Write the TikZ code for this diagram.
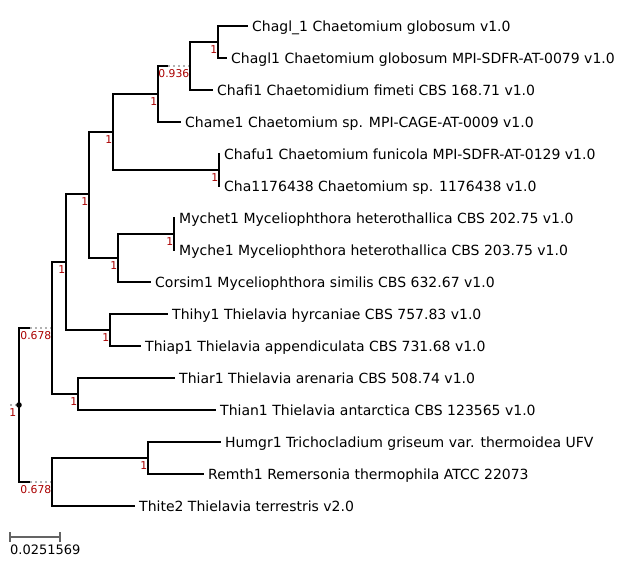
\documentclass[tikz,border=0pt]{standalone}
\usepackage{fontspec}
\setmainfont{DejaVu Sans}
\definecolor{suppred}{RGB}{170,0,0}
\definecolor{scalegrey}{RGB}{100,100,100}
\begin{document}
\begin{tikzpicture}[
        x=1pt, y=-1pt,
        every path/.style={line join=miter},
        branch/.style={line width=1.7pt, black},
        gap/.style={line width=1.5pt, gray!60, dash pattern=on 2pt off 3pt},
        leaf/.style={anchor=west, inner xsep=4pt, inner ysep=0pt, text height=10.2pt, text depth=0pt, font=\fontsize{14}{16}\selectfont},
        supp/.style={anchor=north east, inner xsep=0.5pt, inner ysep=3.4pt, text=suppred, font=\fontsize{10.8}{12}\selectfont},
        ]
        \useasboundingbox (0,0) rectangle (627,582);

        % inner nodes
        \coordinate (r) at (19,405);
        \coordinate (as) at (30,328);  \coordinate (a) at (52,328);
        \coordinate (ws) at (30,482);  \coordinate (w) at (52,482);
        \coordinate (e) at (66,262);
        \coordinate (c) at (78,394);
        \coordinate (f) at (89,194);
        \coordinate (g) at (110,330);
        \coordinate (h) at (113,132);
        \coordinate (i) at (118,258);
        \coordinate (j) at (158,94);
        \coordinate (k) at (219,170);
        \coordinate (n) at (174,234);
        \coordinate (ls) at (168,66); \coordinate (l) at (190,66);
        \coordinate (m) at (218,42);
        \coordinate (d) at (148,458);

        % leaves
        \node[leaf] (t1)  at (248,26)  {Chagl\_1 Chaetomium globosum v1.0};
        \node[leaf] (t2)  at (227,58)  {Chagl1 Chaetomium globosum MPI-SDFR-AT-0079 v1.0};
        \node[leaf] (t3)  at (213,90)  {Chafi1 Chaetomidium fimeti CBS 168.71 v1.0};
        \node[leaf] (t4)  at (181,122) {Chame1 Chaetomium sp. MPI-CAGE-AT-0009 v1.0};
        \node[leaf] (t5)  at (220,154) {Chafu1 Chaetomium funicola MPI-SDFR-AT-0129 v1.0};
        \node[leaf] (t6)  at (220,186) {Cha1176438 Chaetomium sp. 1176438 v1.0};
        \node[leaf] (t7)  at (175,218) {Mychet1 Myceliophthora heterothallica CBS 202.75 v1.0};
        \node[leaf] (t8)  at (175,250) {Myche1 Myceliophthora heterothallica CBS 203.75 v1.0};
        \node[leaf] (t9)  at (151,282) {Corsim1 Myceliophthora similis CBS 632.67 v1.0};
        \node[leaf] (t10) at (168,314) {Thihy1 Thielavia hyrcaniae CBS 757.83 v1.0};
        \node[leaf] (t11) at (141,346) {Thiap1 Thielavia appendiculata CBS 731.68 v1.0};
        \node[leaf] (t12) at (175,378) {Thiar1 Thielavia arenaria CBS 508.74 v1.0};
        \node[leaf] (t13) at (216,410) {Thian1 Thielavia antarctica CBS 123565 v1.0};
        \node[leaf] (t14) at (221,442) {Humgr1 Trichocladium griseum var. thermoidea UFV};
        \node[leaf] (t15) at (204,474) {Remth1 Remersonia thermophila ATCC 22073};
        \node[leaf] (t16) at (135,506) {Thite2 Thielavia terrestris v2.0};

        % branches
        \coordinate (r0) at (10,405);
        \draw[gap] (r0) -- (r);
        \draw[branch] (r) |- (as);  \draw[gap] (as) -- (a);
        \draw[branch] (r) |- (ws);  \draw[gap] (ws) -- (w);
        \draw[branch] (a) |- (e);   \draw[branch] (a) |- (c);
        \draw[branch] (e) |- (f);   \draw[branch] (e) |- (g);
        \draw[branch] (f) |- (h);   \draw[branch] (f) |- (i);
        \draw[branch] (h) |- (j);   \draw[branch] (h) |- (k);
        \draw[branch] (j) |- (ls);  \draw[gap] (ls) -- (l);
        \draw[branch] (j) |- (t4.west);
        \draw[branch] (l) |- (m);   \draw[branch] (l) |- (t3.west);
        \draw[branch] (m) |- (t1.west); \draw[branch] (m) |- (t2.west);
        \draw[branch] (k) |- (t5.west); \draw[branch] (k) |- (t6.west);
        \draw[branch] (i) |- (n);   \draw[branch] (i) |- (t9.west);
        \draw[branch] (n) |- (t7.west); \draw[branch] (n) |- (t8.west);
        \draw[branch] (g) |- (t10.west); \draw[branch] (g) |- (t11.west);
        \draw[branch] (c) |- (t12.west); \draw[branch] (c) |- (t13.west);
        \draw[branch] (w) |- (d);   \draw[branch] (w) |- (t16.west);
        \draw[branch] (d) |- (t14.west); \draw[branch] (d) |- (t15.west);
        \fill (r) circle (2.8);

        % support values
        \node[supp, xshift=-2pt] (sr) at (r) {1};
        \node[supp] (sa) at (a) {0.678};
        \node[supp] (sw) at (w) {0.678};
        \node[supp] (sl) at (l) {0.936};
        \foreach \p in {e,c,f,g,h,i,j,k,n,m,d}
            \node[supp] (s\p) at (\p) {1};

        % scale
        \coordinate (sb1) at (10,537);
        \coordinate (sb2) at (60,537);
        \draw[scalegrey, line width=1.2pt] (sb1) -- (sb2)
            (sb1) ++(0,-5) -- ++(0,10)
            (sb2) ++(0,-5) -- ++(0,10);
        \node[anchor=north west, inner sep=0pt, font=\fontsize{13}{15}\selectfont] (sbt) at (10,545) {0.0251569};
    \end{tikzpicture}
\end{document}
